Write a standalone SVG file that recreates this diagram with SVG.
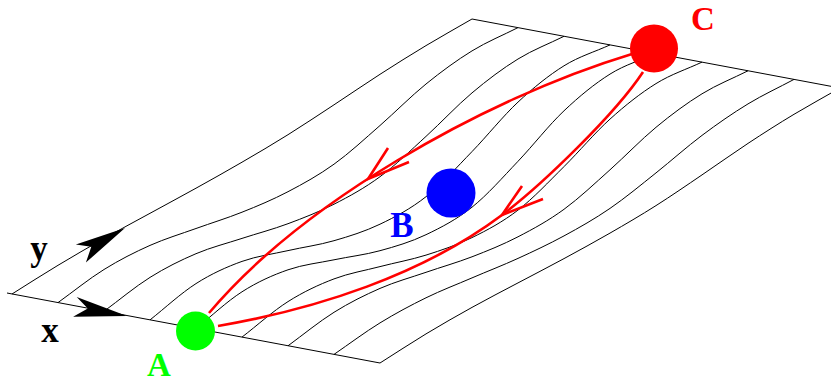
<svg xmlns="http://www.w3.org/2000/svg" width="831" height="383" viewBox="0 0 831 383">
<style>
.grid{fill:none;stroke:#000;stroke-width:1}
.traj{fill:none;stroke:#f00;stroke-width:2.6}
.lbl{font-family:"Liberation Serif","Times New Roman",serif;font-weight:bold;font-size:35px;text-anchor:middle}
.edge{font-size:33px}
</style>
<rect width="831" height="383" fill="#fff"/>
<g id="surface" class="grid">
<path d="M12,294 C27.3,284.4 42.7,274.5 58,265.3 S88.7,247.2 104,238.5 S134.7,221.7 150,213.3 S180.7,196.7 196,188.2 S226.7,171.1 242,162.2 S272.7,144.3 288,134.7 S318.7,114.9 334,104.8 S364.7,84.2 380,74.3 S410.7,54.8 426,45.6 S456.7,27.9 472,19"/>
<path d="M58,302.6 C73.3,291.6 88.7,279 104,269.5 S134.7,252.2 150,245.4 S180.7,234 196,228.5 S226.7,218.3 242,212.2 S272.7,199.7 288,191.7 S318.7,175.2 334,164.2 S364.7,138.9 380,125.5 S410.7,96.4 426,84 S456.7,60.3 472,50.9 S502.7,35.4 518,27.6"/>
<path d="M104,311.3 C119.3,300 134.7,287 150,277.4 S180.7,260.2 196,253.7 S226.7,243.4 242,238.4 S272.7,229.4 288,223.7 S318.7,212 334,204.2 S364.7,188 380,176.7 S410.7,150.4 426,136.4 S456.7,105.8 472,92.9 S502.7,68.4 518,59 S548.7,43.9 564,36.3"/>
<path d="M150,319.9 C165.3,307.8 180.7,293.4 196,283.6 S226.7,266.9 242,261.4 S272.7,254.1 288,250.6 S318.7,245.1 334,240.7 S364.7,231.5 380,224.2 S410.7,208.8 426,196.7 S456.7,167.4 472,151.6 S502.7,116.4 518,102.1 S548.7,75.3 564,65.8 S594.7,51.9 610,44.9"/>
<path d="M196,328.5 C211.3,316.3 226.7,301.6 242,291.8 S272.7,275.1 288,269.8 S318.7,263 334,259.8 S364.7,254.9 380,250.7 S410.7,242 426,234.7 S456.7,219.4 472,207.2 S502.7,177.4 518,161.3 S548.7,125.3 564,110.8 S594.7,83.7 610,74.1 S640.7,60.4 656,53.5"/>
<path d="M242,337.1 C257.3,325.3 272.7,311.3 288,301.6 S318.7,284.7 334,278.9 S364.7,270.6 380,266.6 S410.7,259.9 426,255.1 S456.7,245.1 472,237.6 S502.7,221.9 518,210.1 S548.7,181.8 564,166.6 S594.7,132.9 610,119.1 S640.7,93.1 656,83.6 S686.7,69.3 702,62.1"/>
<path d="M288,345.8 C303.3,334.6 318.7,321.9 334,312.3 S364.7,295.1 380,288.4 S410.7,277.6 426,272.3 S456.7,262.7 472,256.8 S502.7,244.7 518,236.8 S548.7,220.5 564,209.3 S594.7,183.5 610,169.8 S640.7,140 656,127.3 S686.7,103.2 702,93.8 S732.7,78.5 748,70.8"/>
<path d="M334,354.4 C349.3,343.9 364.7,332.3 380,322.9 S410.7,305.3 426,297.8 S456.7,284.5 472,277.9 S502.7,265.4 518,258.4 S548.7,244.2 564,235.9 S594.7,218.9 610,208.4 S640.7,185.1 656,172.9 S686.7,146.9 702,135.4 S732.7,113.2 748,103.9 S778.7,87.6 794,79.4"/>
<path d="M380,363 C395.3,353.3 410.7,343.2 426,333.9 S456.7,315.9 472,307.4 S502.7,291 518,282.9 S548.7,266.9 564,258.6 S594.7,241.9 610,233.1 S640.7,215.3 656,205.6 S686.7,185.3 702,174.9 S732.7,153.5 748,143.4 S778.7,123.5 794,114.3 S824.7,96.8 840,88"/>
<path d="M7,293 L380,363"/>
<path d="M472,19 L840,88"/>
</g>
<g id="axes">
<polygon points="127,316 76.7,297 87.8,308.6 73.1,316.7" fill="#000"/>
<polygon points="125,228 75.8,244.4 91.3,246.7 85.9,262.6" fill="#000"/>
<text class="lbl" x="50" y="342" fill="#000">x</text>
<text class="lbl" x="39" y="260" fill="#000">y</text>
</g>
<g id="connectors">
<path class="traj" d="M209,313 C300,205 480,100 632,54"/>
<polyline class="traj" points="388,148 368,179 409,162"/>
<path class="traj" d="M643,72 C615.5,113.8 542,185 502,215 C422,275 316.5,309 218,326"/>
<polyline class="traj" points="522,186 502,215 543,199"/>
</g>
<g id="node-A">
<circle cx="195.5" cy="331" r="19.5" fill="#00ff00"/>
<text class="lbl edge" x="159" y="375.5" fill="#00ff00">A</text>
</g>
<g id="node-B">
<circle cx="451" cy="193" r="24.5" fill="#0000ff"/>
<text class="lbl" x="402" y="237" fill="#0000ff">B</text>
</g>
<g id="node-C">
<circle cx="654" cy="48.5" r="24" fill="#ff0000"/>
<text class="lbl edge" x="703" y="30" fill="#ff0000">C</text>
</g>
</svg>
